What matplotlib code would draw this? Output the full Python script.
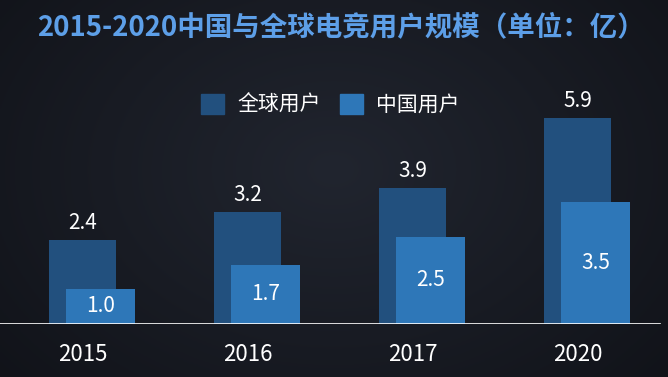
import numpy as np
import matplotlib
matplotlib.use("Agg")
import matplotlib.pyplot as plt
from matplotlib.patches import Patch

plt.rcParams['font.family'] = ['Noto Sans CJK SC', 'DejaVu Sans']

# data
years = ["2015", "2016", "2017", "2020"]
global_users = [2.4, 3.2, 3.9, 5.9]
china_users = [1.0, 1.7, 2.5, 3.5]

title = "2015-2020中国与全球电竞用户规模（单位：亿）"
legend_labels = ["全球用户", "中国用户"]

c_global = "#22507e"
c_china = "#2e77b8"
c_title = "#5d9fe8"

W, H = 668, 377
fig = plt.figure(figsize=(W / 100, H / 100), dpi=100)

# dark radial background
bg = fig.add_axes([0, 0, 1, 1], zorder=-10)
yy, xx = np.mgrid[0:1:200j, 0:1:350j]
r = np.sqrt(((xx - 0.5) / 0.7) ** 2 + ((yy - 0.45) / 0.9) ** 2)
r = np.clip(r, 0, 1)
c0 = np.array([0x21, 0x25, 0x2f]) / 255
c1 = np.array([0x10, 0x12, 0x18]) / 255
img = c0[None, None, :] * (1 - r[..., None]) + c1[None, None, :] * r[..., None]
bg.imshow(img, aspect="auto", extent=[0, 1, 0, 1])
bg.axis("off")

# main axes: baseline at y=324px, ~35 px per unit
base_px = 324
ax = fig.add_axes([0, (H - base_px) / H, 1, base_px / H])
ax.patch.set_alpha(0)
step = 165
ax.set_xlim(-82.5 / step, (W - 82.5) / step)
ax.set_ylim(0, base_px / 35)

x = np.arange(len(years))
w_g = 67 / step
w_c = 69 / step
off_c = 18 / step

ax.bar(x, global_users, width=w_g, color=c_global, zorder=2)
ax.bar(x + off_c, china_users, width=w_c, color=c_china, zorder=3)

for xi, g, c in zip(x, global_users, china_users):
    ax.annotate(f"{g:.1f}", (xi, g), xytext=(0, 12), textcoords="offset points",
                ha="center", va="center", color="white", fontsize=15)
    ax.text(xi + off_c, c / 2, f"{c:.1f}", ha="center", va="center",
            color="white", fontsize=15, zorder=4)

ax.axhline(0, xmin=0, xmax=660 / W, color="white", lw=1.2, zorder=5)

ax.set_xticks(x)
ax.set_xticklabels(years, color="white", fontsize=16)
ax.tick_params(axis="x", length=0, pad=14)
ax.set_yticks([])
for s in ax.spines.values():
    s.set_visible(False)

fig.text(0.51, 1 - 27 / H, title, ha="center", va="center",
         color=c_title, fontsize=19.8, fontweight="bold")

handles = [Patch(color=c_global), Patch(color=c_china)]
fig.legend(handles, legend_labels, loc="center", bbox_to_anchor=(0.495, 1 - 105 / H),
           ncol=2, frameon=False, fontsize=15, labelcolor="white",
           handlelength=1.1, handleheight=1.1, handletextpad=0.65,
           columnspacing=0.9)

fig.savefig("out.png", dpi=100)
